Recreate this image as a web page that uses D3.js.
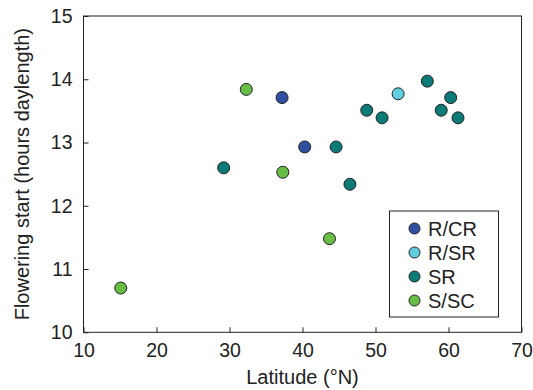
<!DOCTYPE html>
<html>
<head>
<meta charset="utf-8">
<script src="https://cdn.jsdelivr.net/npm/d3@7"></script>
<style>
  body { margin: 0; background: #fff; }
  svg { display: block; }
  text { font-family: "Liberation Sans", Arial, sans-serif; fill: #222; }
</style>
</head>
<body>
<div id="chart"></div>
<script>
// ---------- DATA ----------
const groups = ['R/CR', 'R/SR', 'SR', 'S/SC'];
const groupColors = ['#2f4fa1', '#60cde0', '#0c7b77', '#67bd45'];

const latitude = [32.3, 37.2, 53.1, 57.1, 60.3, 48.8, 50.9, 59.0, 61.3, 40.3, 44.6, 29.2, 37.3, 46.5, 43.7, 15.1];
const flowerStart = [13.84, 13.71, 13.77, 13.97, 13.71, 13.51, 13.39, 13.51, 13.39, 12.93, 12.93, 12.60, 12.53, 12.34, 11.48, 10.70];
const pointGroup = ['S/SC', 'R/CR', 'R/SR', 'SR', 'SR', 'SR', 'SR', 'SR', 'SR', 'R/CR', 'SR', 'SR', 'S/SC', 'SR', 'S/SC', 'S/SC'];

const xTicks = [10, 20, 30, 40, 50, 60, 70];
const yTicks = [10, 11, 12, 13, 14, 15];

// ---------- LAYOUT ----------
const width = 533, height = 390;
const margin = { top: 16, right: 11.5, bottom: 57.7, left: 83.5 };
const innerW = width - margin.left - margin.right;
const innerH = height - margin.top - margin.bottom;

const svg = d3.select('#chart').append('svg')
  .attr('width', width)
  .attr('height', height);

const g = svg.append('g')
  .attr('transform', `translate(${margin.left}, ${margin.top})`);

const x = d3.scaleLinear().domain([10, 70]).range([0, innerW]);
const y = d3.scaleLinear().domain([10, 15]).range([innerH, 0]);
const color = d3.scaleOrdinal().domain(groups).range(groupColors);

// ---------- AXES (ticks point inward) ----------
const xAxis = g.append('g')
  .attr('transform', `translate(0, ${innerH})`)
  .call(d3.axisBottom(x).tickValues(xTicks).tickFormat(d3.format('d')).tickSize(-5).tickPadding(11));

const yAxis = g.append('g')
  .call(d3.axisLeft(y).tickValues(yTicks).tickFormat(d3.format('d')).tickSize(-5).tickPadding(11));

[xAxis, yAxis].forEach((ax) => {
  ax.select('.domain').remove();
  ax.selectAll('.tick line').attr('stroke', '#222').attr('stroke-width', 1);
  ax.selectAll('.tick text')
    .style('font-size', '19.5px')
    .style('font-family', '"Liberation Sans", Arial, sans-serif')
    .attr('fill', '#222');
});

// frame
g.append('rect')
  .attr('width', innerW)
  .attr('height', innerH)
  .attr('fill', 'none')
  .attr('stroke', '#222')
  .attr('stroke-width', 1);

// axis labels
g.append('text')
  .attr('x', innerW / 2)
  .attr('y', innerH + 52)
  .attr('text-anchor', 'middle')
  .style('font-size', '20px')
  .text('Latitude (°N)');

g.append('text')
  .attr('transform', 'rotate(-90)')
  .attr('x', -innerH / 2)
  .attr('y', -55)
  .attr('text-anchor', 'middle')
  .style('font-size', '20px')
  .text('Flowering start (hours daylength)');

// ---------- POINTS ----------
g.selectAll('.pt')
  .data(latitude.map((d, i) => ({ lat: d, val: flowerStart[i], grp: pointGroup[i] })))
  .enter()
  .append('circle')
  .attr('class', 'pt')
  .attr('cx', (d) => x(d.lat))
  .attr('cy', (d) => y(d.val))
  .attr('r', 6)
  .attr('fill', (d) => color(d.grp))
  .attr('stroke', '#222')
  .attr('stroke-width', 1);

// ---------- LEGEND ----------
const legend = svg.append('g').attr('transform', 'translate(389.5, 211)');
legend.append('rect')
  .attr('width', 109)
  .attr('height', 106)
  .attr('fill', '#fff')
  .attr('stroke', '#222')
  .attr('stroke-width', 1);

const item = legend.selectAll('.item')
  .data(groups)
  .enter()
  .append('g')
  .attr('transform', (d, i) => `translate(0, ${17.5 + i * 24})`);

item.append('circle')
  .attr('cx', 25)
  .attr('r', 5.5)
  .attr('fill', (d) => color(d))
  .attr('stroke', '#222')
  .attr('stroke-width', 1);

item.append('text')
  .attr('x', 38.5)
  .attr('dy', '0.36em')
  .style('font-size', '20px')
  .text((d) => d);
</script>
</body>
</html>
